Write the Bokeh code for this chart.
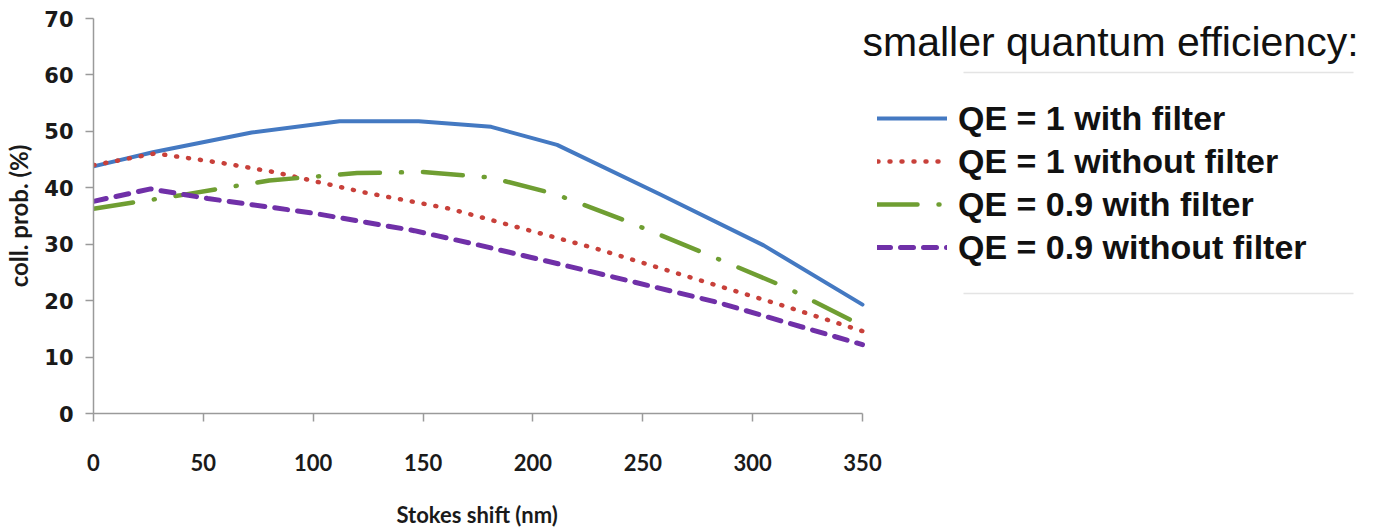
from bokeh.plotting import figure
from bokeh.models import Range1d, Legend, LegendItem, Label, FixedTicker, Title
from bokeh.embed import file_html
from bokeh.resources import INLINE

# ---- data ----
x_ticks = [0, 50, 100, 150, 200, 250, 300, 350]
y_ticks = [0, 10, 20, 30, 40, 50, 60, 70]

qe1_filter_x = [0, 27, 72, 112, 148, 181, 211, 258, 305, 350]
qe1_filter_y = [43.8, 46.3, 49.8, 51.8, 51.8, 50.8, 47.6, 38.8, 29.8, 19.3]

qe1_nofilter_x = [0, 28, 60, 82, 123, 162, 229, 314, 350]
qe1_nofilter_y = [44.0, 46.1, 44.3, 42.8, 39.2, 36.3, 29.2, 19.1, 14.6]

qe09_filter_x = [0, 40, 80, 120, 150, 181, 210, 240, 278, 316, 350]
qe09_filter_y = [36.3, 38.7, 41.3, 42.6, 42.8, 41.8, 38.9, 34.5, 28.4, 22.2, 15.5]

qe09_nofilter_x = [0, 26, 52, 100, 146, 176, 228, 284, 350]
qe09_nofilter_y = [37.6, 39.8, 38.1, 35.5, 32.4, 29.8, 25.0, 19.7, 12.2]

labels = ["QE = 1 with filter", "QE = 1 without filter",
          "QE = 0.9 with filter", "QE = 0.9 without filter"]
legend_title = "smaller quantum efficiency:"
x_title = "Stokes shift (nm)"
y_title = "coll. prob. (%)"

# ---- layout ----
LEFT = 93          # px left of the plotting area
TOP = 18
AXIS_W = 769       # px spanned by 0..350
FRAME_W = 1275     # frame runs on to the right edge (legend lives inside it)
FRAME_H = 395
X_MAX = x_ticks[-1]
Y_MAX = y_ticks[-1]
x_end = X_MAX * FRAME_W / AXIS_W
px_x = X_MAX / AXIS_W            # data units per px (x)
px_y = Y_MAX / FRAME_H           # data units per px (y)

p = figure(frame_width=FRAME_W, frame_height=FRAME_H,
           output_backend="svg", toolbar_location=None,
           x_range=Range1d(0, x_end), y_range=Range1d(0, Y_MAX),
           min_border_left=LEFT, min_border_right=0, min_border_top=TOP,
           min_border_bottom=0)
p.outline_line_color = None
p.grid.visible = False
p.background_fill_color = "white"

# faint rules framing the legend block (as in the pasted legend of the original)
rule_x0 = (963 - LEFT) * px_x
rule_x1 = (1353 - LEFT) * px_x
rule_y = [(TOP + FRAME_H - 72) * px_y, (TOP + FRAME_H - 293) * px_y]
p.segment(x0=[rule_x0, rule_x0], x1=[rule_x1, rule_x1], y0=rule_y, y1=rule_y,
          line_color="#e4e4e4", line_width=1.5)

r1 = p.line(qe1_filter_x, qe1_filter_y, line_color="#4479c2", line_width=4,
            line_join="round", line_cap="round")
r2 = p.line(qe1_nofilter_x, qe1_nofilter_y, line_color="#c8403a", line_width=4.5,
            line_dash="1 11", line_cap="round", line_join="round")
r3 = p.line(qe09_filter_x, qe09_filter_y, line_color="#6f9e32", line_width=4.5,
            line_dash="40 21 1 21", line_cap="round", line_join="round")
r4 = p.line(qe09_nofilter_x, qe09_nofilter_y, line_color="#7030a8", line_width=5,
            line_dash="13 10", line_cap="round", line_join="round")

for ax, ticks in ((p.xaxis, x_ticks), (p.yaxis, y_ticks)):
    ax.ticker = FixedTicker(ticks=ticks)
    ax.axis_line_color = "#9a9a9a"
    ax.axis_line_width = 1.5
    ax.major_tick_line_color = "#9a9a9a"
    ax.major_tick_line_width = 1.5
    ax.major_tick_out = 8
    ax.major_tick_in = 0
    ax.minor_tick_out = 0
    ax.minor_tick_in = 0
    ax.major_label_text_font_style = "bold"
    ax.major_label_text_color = "#1a1a1a"
    ax.axis_label_text_font = "Lato"
    ax.axis_label_text_font_style = "bold"
    ax.axis_label_text_font_size = "24px"
    ax.axis_label_text_color = "#1a1a1a"

p.xaxis.major_label_text_font = "Lato"
p.xaxis.major_label_text_font_size = "22px"
p.yaxis.major_label_text_font = "DejaVu Sans"
p.yaxis.major_label_text_font_size = "21px"

p.xaxis.bounds = (0, X_MAX)
p.xaxis.major_label_standoff = 32
# spacer below the tick labels (the real x title is a Title centred on 0..350)
p.xaxis.axis_label = " "
p.xaxis.axis_label_text_font_size = "1px"
p.xaxis.axis_label_standoff = 21
p.yaxis.axis_label = y_title
p.yaxis.major_label_standoff = 12
p.yaxis.axis_label_standoff = 8

xt = Title(text=x_title, align="left", offset=303, standoff=0,
           text_font="Lato", text_font_style="bold", text_font_size="22px",
           text_color="#1a1a1a")
p.add_layout(xt, "below")

title = Label(x=X_MAX, y=65.75, text=legend_title,
              text_font="Liberation Sans", text_font_size="41px",
              text_baseline="alphabetic", text_align="left", text_color="#111111")
p.add_layout(title)

legend = Legend(items=[LegendItem(label=labels[0], renderers=[r1]),
                       LegendItem(label=labels[1], renderers=[r2]),
                       LegendItem(label=labels[2], renderers=[r3]),
                       LegendItem(label=labels[3], renderers=[r4])],
                location=(784, 146), glyph_width=70, glyph_height=40,
                label_height=40, spacing=3, padding=0, margin=0,
                label_standoff=11, label_text_font="Liberation Sans",
                label_text_font_size="34px", label_text_font_style="bold",
                label_text_color="#111111", border_line_color=None,
                background_fill_alpha=0)
p.add_layout(legend)

open("out.html", "w").write(file_html(p, INLINE))
